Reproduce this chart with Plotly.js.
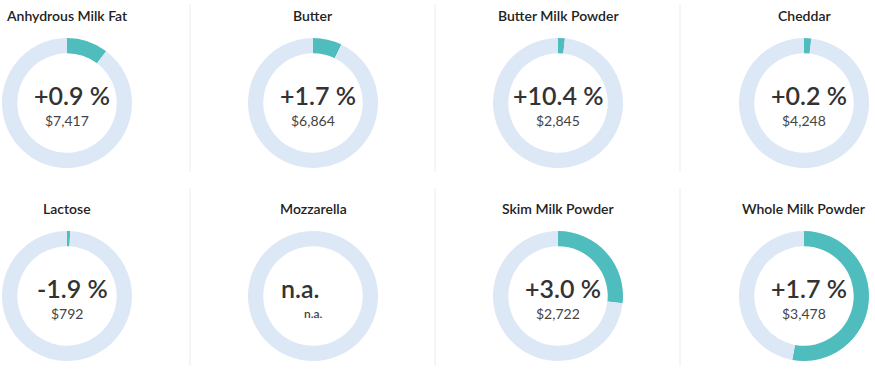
<!DOCTYPE html>
<html><head><meta charset="utf-8">
<script src="https://cdn.plot.ly/plotly-3.0.1.min.js"></script>
<style>html,body{margin:0;padding:0;background:#fff;}#chart{width:875px;height:373px;}</style>
</head><body><div id="chart"></div>
<script>
const products = ["Anhydrous Milk Fat","Butter","Butter Milk Powder","Cheddar","Lactose","Mozzarella","Skim Milk Powder","Whole Milk Powder"];
const changes = ["+0.9 %","+1.7 %","+10.4 %","+0.2 %","-1.9 %","n.a.","+3.0 %","+1.7 %"];
const prices = ["$7,417","$6,864","$2,845","$4,248","$792","n.a.","$2,722","$3,478"];
const shares = [10.3, 7.2, 1.7, 1.8, 0.8, 0, 26.8, 52.9];

const W = 875, H = 373;
const colX = [67, 313, 558, 804];
const rowY = [103, 296];
const R = 65;
const TEAL = "#4fbcbd", LIGHT = "#dce8f5";

const data = [], annotations = [], shapes = [];
products.forEach((p, i) => {
  const cx = colX[i % 4], cy = rowY[Math.floor(i / 4)];
  data.push({
    type: "pie", values: [shares[i], 100 - shares[i]], labels: ["share", "rest"],
    hole: 0.765, sort: false, direction: "clockwise", rotation: 0,
    marker: {colors: [TEAL, LIGHT], line: {width: 0}},
    textinfo: "none", hoverinfo: "none", showlegend: false,
    domain: {x: [(cx - R) / W, (cx + R) / W], y: [1 - (cy + R) / H, 1 - (cy - R) / H]}
  });
  annotations.push({text: p, x: cx / W, y: 1 - (cy - 88) / H, xref: "paper", yref: "paper",
    showarrow: false, xanchor: "center", yanchor: "middle",
    font: {family: "Lato", size: 14, color: "#222", weight: 600}});
  const na = changes[i] === "n.a.";
  const shift = na ? -13 : (changes[i].length > 6 ? 0 : 5);
  annotations.push({text: changes[i], x: cx / W, y: 1 - (cy - 8) / H, xref: "paper", yref: "paper",
    showarrow: false, xanchor: "center", yanchor: "middle", xshift: shift,
    font: {family: "Lato", size: 25, color: "#333", weight: 600}});
  annotations.push({text: prices[i], x: cx / W, y: 1 - (cy + 17) / H, xref: "paper", yref: "paper",
    showarrow: false, xanchor: "center", yanchor: "middle",
    font: {family: "Lato", size: na ? 12 : 14, color: "#444", weight: na ? 600 : 400}});
});
[190, 435, 680].forEach(x => {
  [[4, 172], [188, 366]].forEach(([a, b]) => {
    shapes.push({type: "line", xref: "paper", yref: "paper", x0: x / W, x1: x / W,
      y0: 1 - a / H, y1: 1 - b / H, line: {color: "#ececec", width: 1}});
  });
});

Plotly.newPlot("chart", data, {
  width: W, height: H, margin: {l: 0, r: 0, t: 0, b: 0},
  paper_bgcolor: "#fff", plot_bgcolor: "#fff",
  annotations: annotations, shapes: shapes
}, {displayModeBar: false, staticPlot: true});
</script></body></html>
